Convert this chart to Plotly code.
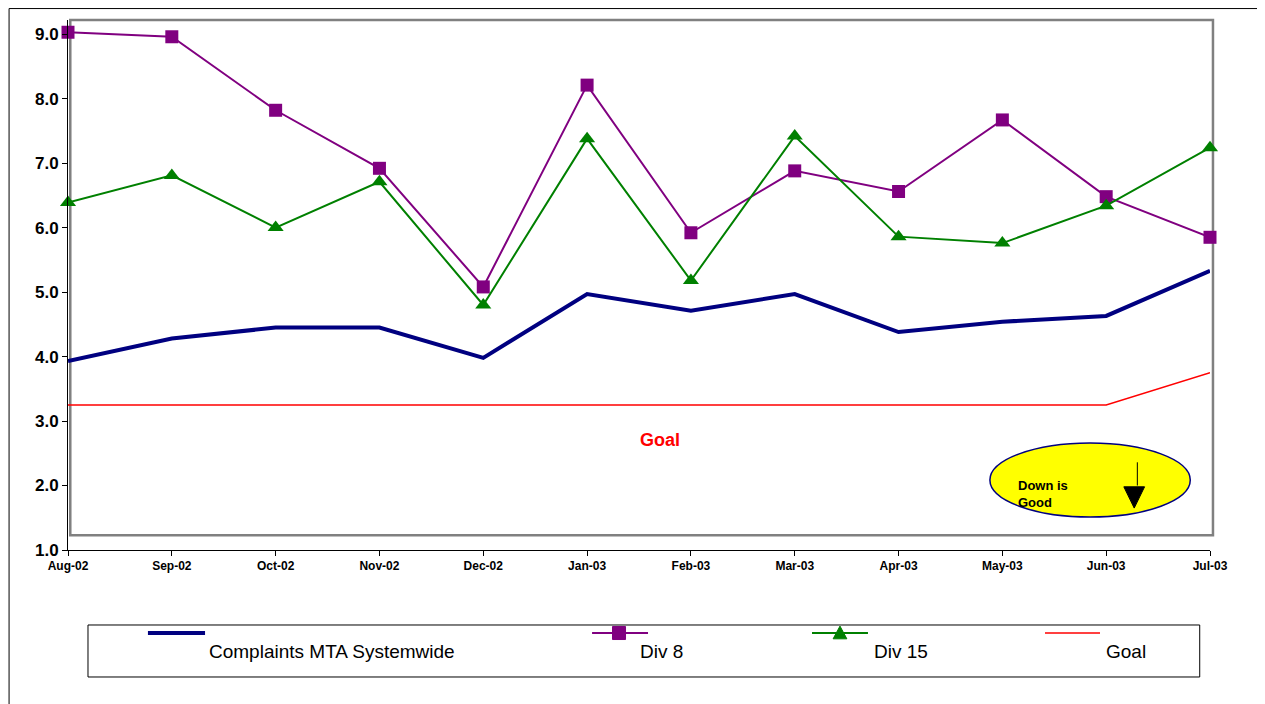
import plotly.graph_objects as go

months = ['Aug-02', 'Sep-02', 'Oct-02', 'Nov-02', 'Dec-02', 'Jan-03',
          'Feb-03', 'Mar-03', 'Apr-03', 'May-03', 'Jun-03', 'Jul-03']
systemwide = [3.93, 4.28, 4.45, 4.45, 3.98, 4.97, 4.71, 4.97, 4.38, 4.54, 4.63, 5.33]
div8 = [9.03, 8.96, 7.82, 6.92, 5.08, 8.21, 5.92, 6.88, 6.56, 7.67, 6.48, 5.85]
div15 = [6.39, 6.81, 6.00, 6.71, 4.80, 7.38, 5.18, 7.42, 5.86, 5.76, 6.34, 7.24]
goal = [3.25, 3.25, 3.25, 3.25, 3.25, 3.25, 3.25, 3.25, 3.25, 3.25, 3.25, 3.75]
series_names = ['Complaints MTA Systemwide', 'Div 8', 'Div 15', 'Goal']

xs = list(range(len(months)))

fig = go.Figure()
fig.add_trace(go.Scatter(x=xs, y=systemwide, name=series_names[0], mode='lines',
                         line=dict(color='#000080', width=4), cliponaxis=False))
fig.add_trace(go.Scatter(x=xs, y=div8, name=series_names[1], mode='lines+markers',
                         line=dict(color='#800080', width=2),
                         marker=dict(symbol='square', size=13, color='#800080'), cliponaxis=False))
fig.add_trace(go.Scatter(x=xs, y=div15, name=series_names[2], mode='lines+markers',
                         line=dict(color='#008000', width=2),
                         marker=dict(symbol='triangle-up', size=14, color='#008000'), cliponaxis=False))
fig.add_trace(go.Scatter(x=xs, y=goal, name=series_names[3], mode='lines',
                         line=dict(color='#ff0000', width=1.5), cliponaxis=False))

P = dict(xref='paper', yref='paper')
sym_y = -0.1566
txt_y = -0.1906
shapes = [
    # gray plot box
    dict(type='rect', **P, x0=0.002, x1=1.0026, y0=0.028, y1=1.0,
         line=dict(color='#808080', width=2.5), layer='below'),
    # ellipse
    dict(type='circle', xref='x', yref='y', x0=8.88, x1=10.81, y0=1.51, y1=2.66,
         fillcolor='#ffff00', line=dict(color='#000080', width=1.5)),
    dict(type='line', xref='x', yref='y', x0=10.3, x1=10.3, y0=2.0, y1=2.36,
         line=dict(color='black', width=1)),
    dict(type='path', xref='x', yref='y', path='M 10.17 1.98 L 10.37 1.98 L 10.27 1.65 Z',
         fillcolor='black', line=dict(color='black', width=1)),
    # page border lines
    dict(type='line', **P, x0=-0.0516, x1=-0.0516, y0=1.0216, y1=-0.31,
         line=dict(color='black', width=1)),
    dict(type='line', **P, x0=-0.0516, x1=1.06, y0=1.0216, y1=1.0216,
         line=dict(color='black', width=1)),
    # legend box
    dict(type='rect', **P, x0=0.0175, x1=0.991, y0=-0.2396, y1=-0.1415,
         line=dict(color='black', width=1)),
    dict(type='line', **P, x0=0.070, x1=0.120, y0=sym_y, y1=sym_y,
         line=dict(color='#000080', width=4)),
    dict(type='line', **P, x0=0.4589, x1=0.5079, y0=sym_y, y1=sym_y,
         line=dict(color='#800080', width=2)),
    dict(type='rect', **P, x0=0.4825 - 0.0057, x1=0.4825 + 0.0057,
         y0=sym_y - 0.0123, y1=sym_y + 0.0123, fillcolor='#800080',
         line=dict(color='#800080', width=1)),
    dict(type='line', **P, x0=0.6515, x1=0.7005, y0=sym_y, y1=sym_y,
         line=dict(color='#008000', width=2)),
    dict(type='path', **P,
         path='M 0.6700 %.4f L 0.6820 %.4f L 0.6760 %.4f Z' % (sym_y - 0.011, sym_y - 0.011, sym_y + 0.013),
         fillcolor='#008000', line=dict(color='#008000', width=1)),
    dict(type='line', **P, x0=0.8555, x1=0.9037, y0=sym_y, y1=sym_y,
         line=dict(color='#ff0000', width=1.5)),
]

annotations = [
    dict(x=5.7, y=2.71, xref='x', yref='y', text='<b>Goal</b>', showarrow=False,
         font=dict(color='#ff0000', size=18)),
    dict(x=9.13, y=1.87, xref='x', yref='y', text='<b>Down is<br>Good</b>', showarrow=False,
         align='left', xanchor='left', font=dict(color='black', size=13)),
]
for name, tx in zip(series_names, [0.1217, 0.4991, 0.704, 0.9072]):
    annotations.append(dict(x=tx, y=txt_y, **P, text=name, showarrow=False,
                            xanchor='left', yanchor='middle', font=dict(size=19)))

fig.update_layout(
    width=1265, height=704,
    margin=dict(l=60, r=63, t=12, b=162, autoexpand=False),
    plot_bgcolor='white', paper_bgcolor='white',
    font=dict(family='Liberation Sans, Arial, sans-serif', color='black'),
    showlegend=False,
    xaxis=dict(range=[0, 11], tickvals=xs, ticktext=['<b>%s</b>' % m for m in months],
               automargin=False,
               showgrid=False, zeroline=False, showline=True, linecolor='black', linewidth=1,
               ticks='outside', ticklen=5, tickcolor='black', tickfont=dict(size=12)),
    yaxis=dict(range=[1, 9.22], showgrid=False, zeroline=False, automargin=False,
               showline=True, linecolor='black', linewidth=1, ticks='outside', ticklen=5,
               tickcolor='black', tickfont=dict(size=17),
               tickvals=[1, 2, 3, 4, 5, 6, 7, 8, 9],
               ticktext=['<b>%.1f</b>' % v for v in range(1, 10)]),
    shapes=shapes, annotations=annotations,
)

fig.write_html('out.html')
